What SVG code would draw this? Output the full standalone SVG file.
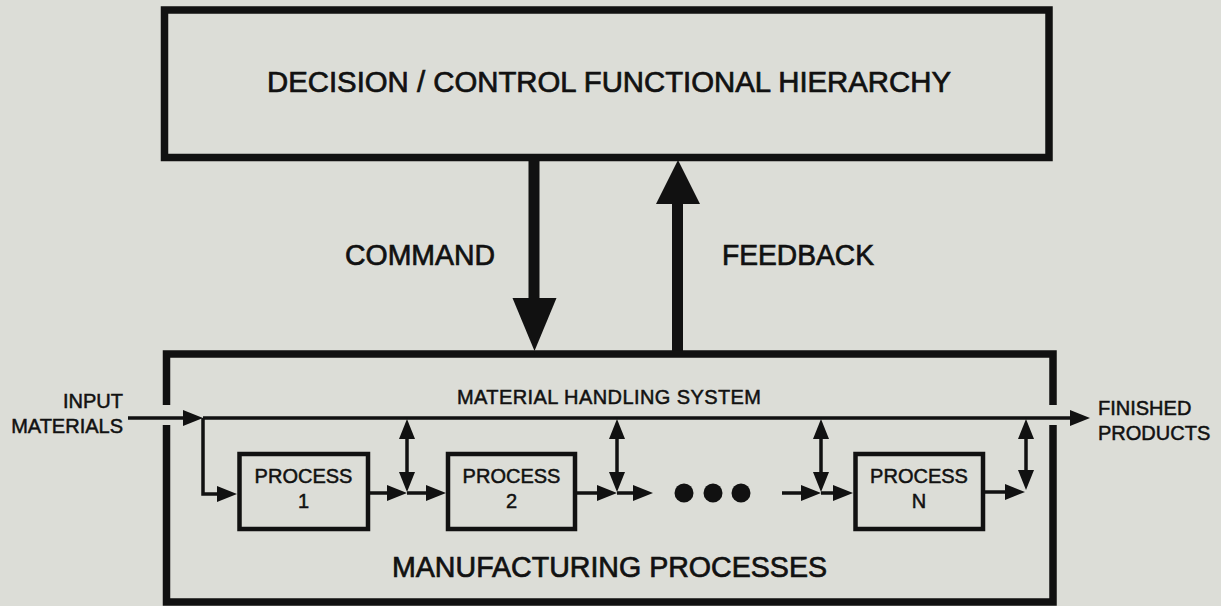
<svg xmlns="http://www.w3.org/2000/svg" width="1221" height="606" viewBox="0 0 1221 606">
  <defs>
    <style>
      .bg { fill: #dcddd7; }
      .frame { fill: none; stroke: #111; stroke-width: 7.5; stroke-linejoin: miter; }
      .proc { fill: #dcddd7; stroke: #111; stroke-width: 4.5; }
      .txt { font-family: "Liberation Sans", Arial, Helvetica, sans-serif; fill: #111; stroke: #111; stroke-width: 0.5; }
      .big { font-size: 29px; stroke-width: 0.7; }
      .mid { font-size: 20px; }
      .flow { fill: none; stroke: #111; stroke-width: 3.5; }
      .head { fill: #111; }
    </style>
    <!-- small filled arrowhead for material flow; path ends 8px short of the tip -->
    <marker id="tip" markerUnits="userSpaceOnUse" markerWidth="20" markerHeight="16"
            refX="12" refY="8" orient="auto-start-reverse" viewBox="0 0 20 16">
      <path d="M0,0 L20,8 L0,16 Z" fill="#111"/>
    </marker>
  </defs>

  <rect class="bg" x="0" y="0" width="1221" height="606"/>

  <!-- upper block: decision / control hierarchy -->
  <g id="hierarchy">
    <rect class="frame" x="164.5" y="10" width="884.5" height="147.5"/>
    <text class="txt big" x="609" y="92" font-size="30" text-anchor="middle" textLength="684" lengthAdjust="spacingAndGlyphs">DECISION / CONTROL FUNCTIONAL HIERARCHY</text>
  </g>

  <!-- lower block: manufacturing processes, open where the material line passes -->
  <g id="manufacturing">
    <rect class="bg" x="166.5" y="354" width="886.5" height="248"/>
    <path class="frame" d="M166.5,405 V354 H1053 V405 M1053,425 V602 H166.5 V425"/>
    <text class="txt mid" x="609" y="404" text-anchor="middle" textLength="304" lengthAdjust="spacing">MATERIAL HANDLING SYSTEM</text>
    <text class="txt big" x="609.5" y="577" text-anchor="middle" textLength="435" lengthAdjust="spacingAndGlyphs">MANUFACTURING PROCESSES</text>
  </g>

  <g id="process-1">
    <rect class="proc" x="239.5" y="454" width="128.5" height="75"/>
    <text class="txt mid" x="303.5" y="483" text-anchor="middle">PROCESS</text>
    <text class="txt mid" x="303.5" y="508" text-anchor="middle">1</text>
  </g>

  <g id="process-2">
    <rect class="proc" x="448" y="454" width="127" height="75"/>
    <text class="txt mid" x="511.5" y="483" text-anchor="middle">PROCESS</text>
    <text class="txt mid" x="511.5" y="508" text-anchor="middle">2</text>
  </g>

  <g id="process-n">
    <rect class="proc" x="855.5" y="454" width="127.5" height="75"/>
    <text class="txt mid" x="919" y="483" text-anchor="middle">PROCESS</text>
    <text class="txt mid" x="919" y="508" text-anchor="middle">N</text>
  </g>

  <g id="input-label">
    <text class="txt mid" x="123" y="408" text-anchor="end">INPUT</text>
    <text class="txt mid" x="123" y="433" text-anchor="end">MATERIALS</text>
  </g>

  <g id="output-label">
    <text class="txt mid" x="1098" y="415">FINISHED</text>
    <text class="txt mid" x="1098" y="440">PRODUCTS</text>
  </g>

  <g id="signal-labels">
    <text class="txt big" x="345" y="265" textLength="150" lengthAdjust="spacingAndGlyphs">COMMAND</text>
    <text class="txt big" x="722" y="265" textLength="152" lengthAdjust="spacingAndGlyphs">FEEDBACK</text>
  </g>

  <g id="connectors">
    <!-- command: hierarchy down to processes -->
    <rect class="head" x="528.5" y="160" width="11" height="140"/>
    <polygon class="head" points="512.5,298 556.5,298 534.5,351"/>
    <!-- feedback: processes up to hierarchy -->
    <rect class="head" x="672" y="200" width="11" height="152"/>
    <polygon class="head" points="656,204 700,204 678,160"/>

    <!-- material handling line -->
    <path class="flow" d="M128,418 H195" marker-end="url(#tip)"/>
    <path class="flow" d="M203,418 H1082" marker-end="url(#tip)"/>

    <!-- feed into process 1 -->
    <path class="flow" d="M203,418 V494 H229" marker-end="url(#tip)"/>

    <!-- process 1 to process 2 -->
    <path class="flow" d="M368,493 H399" marker-end="url(#tip)"/>
    <path class="flow" d="M407,427 V484" marker-start="url(#tip)" marker-end="url(#tip)"/>
    <path class="flow" d="M407,493 H438" marker-end="url(#tip)"/>

    <!-- process 2 onward -->
    <path class="flow" d="M575,493 H609" marker-end="url(#tip)"/>
    <path class="flow" d="M617,427 V484" marker-start="url(#tip)" marker-end="url(#tip)"/>
    <path class="flow" d="M617,493 H645" marker-end="url(#tip)"/>

    <!-- ellipsis between stages -->
    <circle class="head" cx="684" cy="493" r="9.5"/>
    <circle class="head" cx="713" cy="493" r="9.5"/>
    <circle class="head" cx="741" cy="493" r="9.5"/>

    <!-- into process N -->
    <path class="flow" d="M782,493 H813" marker-end="url(#tip)"/>
    <path class="flow" d="M821,427 V484" marker-start="url(#tip)" marker-end="url(#tip)"/>
    <path class="flow" d="M821,493 H845" marker-end="url(#tip)"/>

    <!-- process N back to the line -->
    <path class="flow" d="M983,492 H1017" marker-end="url(#tip)"/>
    <path class="flow" d="M1026,427 V482" marker-start="url(#tip)" marker-end="url(#tip)"/>
  </g>
</svg>
